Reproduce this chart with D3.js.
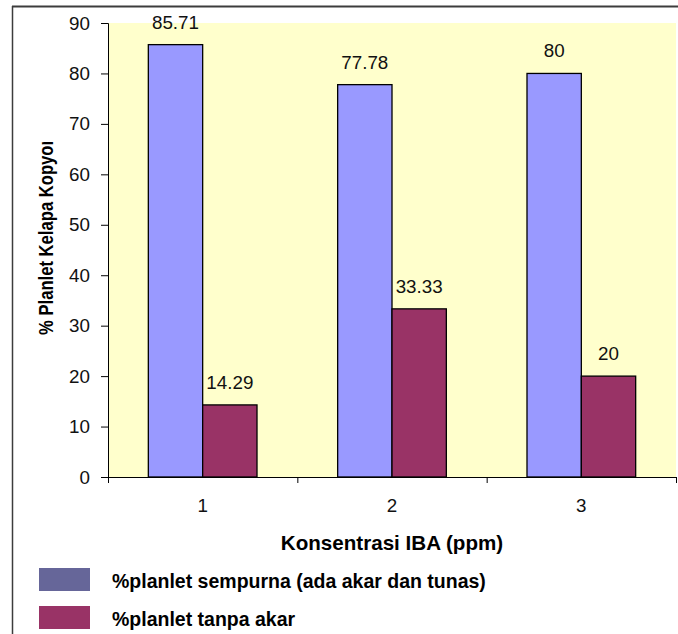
<!DOCTYPE html>
<html><head><meta charset="utf-8">
<script src="https://cdn.jsdelivr.net/npm/d3@7"></script>
<style>body{margin:0;background:#fff}svg{display:block}text{font-family:"Liberation Sans",Arial,sans-serif}</style>
</head><body><svg id="c" width="678" height="634"></svg>
<script>
const categories = ["1", "2", "3"];
const seriesNames = ["%planlet sempurna (ada akar dan tunas)", "%planlet tanpa akar"];
const sempurna = [85.71, 77.78, 80];
const tanpaAkar = [14.29, 33.33, 20];
const yTicks = [0, 10, 20, 30, 40, 50, 60, 70, 80, 90];
const barColors = ["#9999FF", "#993366"];
const legendColors = ["#666699", "#993366"];
const xTitle = "Konsentrasi IBA (ppm)";
const yTitle = "% Planlet Kelapa Kopyor";

const series = [sempurna, tanpaAkar];
const svg = d3.select("#c");
const L = 108, R = 676, T = 23, B = 477;

// outer frame
svg.append("line").attr("x1", 12).attr("x2", 678).attr("y1", 6.5).attr("y2", 6.5).attr("stroke", "#3c3c3c").attr("stroke-width", 2);
svg.append("line").attr("x1", 12.5).attr("x2", 12.5).attr("y1", 6).attr("y2", 634).attr("stroke", "#3c3c3c").attr("stroke-width", 1.5);

const x0 = d3.scaleBand().domain(categories).range([L, R]).padding(0);
const x1 = d3.scaleBand().domain([0, 1]).range([x0.bandwidth() * 0.213, x0.bandwidth() * 0.787]).padding(0);
const y = d3.scaleLinear().domain([0, 90]).range([B, T]);

svg.append("rect").attr("x", L).attr("y", T).attr("width", R - L).attr("height", B - T).attr("fill", "#FFFFCC");

const g = svg.append("g").selectAll("g").data(categories).join("g")
  .attr("transform", d => `translate(${x0(d)},0)`);
g.selectAll("rect").data((d, i) => series.map((s, k) => ({k, v: s[i]}))).join("rect")
  .attr("x", d => x1(d.k)).attr("width", x1.bandwidth())
  .attr("y", d => y(d.v)).attr("height", d => B - y(d.v))
  .attr("fill", d => barColors[d.k]).attr("stroke", "#000").attr("stroke-width", 1.3);
g.selectAll("text").data((d, i) => series.map((s, k) => ({k, v: s[i]}))).join("text")
  .attr("x", d => x1(d.k) + x1.bandwidth() / 2).attr("y", d => y(d.v) - 16)
  .attr("text-anchor", "middle").attr("font-size", "18.8px").attr("fill", "#111")
  .text(d => String(d.v));

// y axis
const ya = svg.append("g").attr("transform", `translate(${L},0)`)
  .call(d3.axisLeft(y).tickValues(yTicks).tickSize(7).tickPadding(11));
ya.selectAll("text").attr("font-size", "18.8px").attr("fill", "#111").style("font-family", '"Liberation Sans",Arial,sans-serif');
ya.selectAll("path,line").attr("stroke", "#000");

// x axis ticks at boundaries
const xl = d3.scaleLinear().domain([0, 3]).range([L, R]);
const xa = svg.append("g").attr("transform", `translate(0,${B})`)
  .call(d3.axisBottom(xl).tickValues([0, 1, 2, 3]).tickSize(6).tickFormat(""));
xa.selectAll("path,line").attr("stroke", "#000");
xa.select("path").attr("d", `M${L},0.5H${R}`);
svg.append("g").selectAll("text").data(categories).join("text")
  .attr("x", d => x0(d) + x0.bandwidth() / 2).attr("y", 511.5)
  .attr("text-anchor", "middle").attr("font-size", "18.8px").attr("fill", "#111").text(d => d);

// titles
svg.append("text").attr("x", (L + R) / 2).attr("y", 549.5).attr("text-anchor", "middle")
  .attr("font-size", "20.6px").attr("font-weight", "bold").attr("fill", "#000").text(xTitle);
svg.append("clipPath").attr("id", "yc").append("rect").attr("x", 0).attr("y", 142).attr("width", 100).attr("height", 400);
svg.append("g").attr("clip-path", "url(#yc)").append("text")
  .attr("transform", "translate(53,335) rotate(-90)")
  .attr("font-size", "19.5px").attr("font-weight", "bold").attr("fill", "#000")
  .attr("textLength", 196).attr("lengthAdjust", "spacingAndGlyphs").text(yTitle);

// legend
const lg = svg.append("g").selectAll("g").data(seriesNames).join("g")
  .attr("transform", (d, i) => `translate(39,${568 + i * 38})`);
lg.append("rect").attr("width", 51).attr("height", 23).attr("fill", (d, i) => legendColors[i]);
lg.append("text").attr("x", 73).attr("y", 20).attr("font-size", "19.5px").attr("font-weight", "bold")
  .attr("fill", "#000").text(d => d);
</script></body></html>
